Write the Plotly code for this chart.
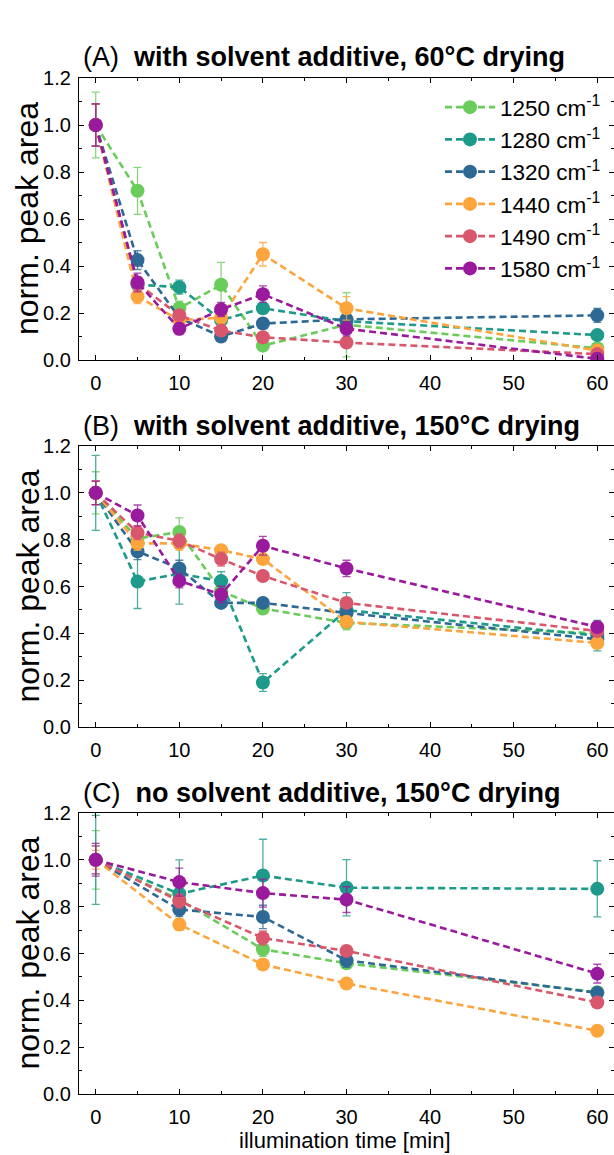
import plotly.graph_objects as go

W, H = 614, 1155
ML = 79

labels = ["1250 cm<sup>-1</sup>", "1280 cm<sup>-1</sup>", "1320 cm<sup>-1</sup>",
          "1440 cm<sup>-1</sup>", "1490 cm<sup>-1</sup>", "1580 cm<sup>-1</sup>"]
colors = ["#6ACC5B", "#1E9A8A", "#2E6894", "#FCA53D", "#D9576C", "#9A1A9E"]
err_colors = ["rgba(106,204,91,0.8)", "rgba(30,154,138,0.8)", "rgba(46,104,148,0.8)",
              "rgba(252,165,61,0.8)", "rgba(217,87,108,0.8)", "rgba(154,26,158,0.8)"]

titles = ["(A)  <b>with solvent additive, 60°C drying</b>",
          "(B)  <b>with solvent additive, 150°C drying</b>",
          "(C)  <b>no solvent additive, 150°C drying</b>"]

# Panel A
time_A = [0, 5, 10, 15, 20, 30, 60]
A_1250 = [1.0, 0.72, 0.22, 0.32, 0.061, 0.15, 0.05]
A_1280 = [1.0, 0.32, 0.31, 0.17, 0.22, 0.165, 0.106]
A_1320 = [1.0, 0.425, 0.18, 0.10, 0.155, 0.173, 0.19]
A_1440 = [1.0, 0.27, 0.17, 0.18, 0.45, 0.22, 0.04]
A_1490 = [1.0, 0.325, 0.19, 0.125, 0.097, 0.074, 0.025]
A_1580 = [1.0, 0.33, 0.133, 0.215, 0.28, 0.133, 0.005]
A_err_1250 = [0.14, 0.10, 0.03, 0.095, 0.02, 0.137, 0.02]
A_err_1280 = [0.09, 0.03, 0.03, 0.03, 0.02, 0.02, 0.015]
A_err_1320 = [0.09, 0.04, 0.02, 0.02, 0.02, 0.02, 0.03]
A_err_1440 = [0.09, 0.03, 0.02, 0.03, 0.05, 0.05, 0.02]
A_err_1490 = [0.09, 0.03, 0.02, 0.02, 0.02, 0.02, 0.01]
A_err_1580 = [0.09, 0.04, 0.025, 0.03, 0.035, 0.03, 0.01]

# Panel B
time_B = [0, 5, 10, 15, 20, 30, 60]
B_1250 = [1.0, 0.805, 0.833, 0.58, 0.506, 0.445, 0.40]
B_1280 = [1.0, 0.621, 0.655, 0.623, 0.19, 0.499, 0.39]
B_1320 = [1.0, 0.75, 0.677, 0.53, 0.53, 0.487, 0.375]
B_1440 = [1.0, 0.784, 0.784, 0.755, 0.717, 0.449, 0.359]
B_1490 = [1.0, 0.83, 0.795, 0.717, 0.645, 0.53, 0.41]
B_1580 = [1.0, 0.903, 0.624, 0.566, 0.774, 0.677, 0.427]
B_err_1250 = [0.09, 0.03, 0.06, 0.03, 0.02, 0.03, 0.02]
B_err_1280 = [0.16, 0.115, 0.13, 0.04, 0.038, 0.075, 0.065]
B_err_1320 = [0.05, 0.035, 0.035, 0.02, 0.015, 0.02, 0.02]
B_err_1440 = [0.05, 0.03, 0.03, 0.02, 0.02, 0.02, 0.02]
B_err_1490 = [0.05, 0.03, 0.03, 0.03, 0.02, 0.02, 0.02]
B_err_1580 = [0.05, 0.045, 0.03, 0.035, 0.04, 0.035, 0.02]

# Panel C
time_C = [0, 10, 20, 30, 60]
C_1250 = [1.0, 0.83, 0.618, 0.558, 0.435]
C_1280 = [1.0, 0.855, 0.933, 0.881, 0.876]
C_1320 = [1.0, 0.788, 0.756, 0.571, 0.432]
C_1440 = [1.0, 0.724, 0.553, 0.472, 0.27]
C_1490 = [1.0, 0.824, 0.666, 0.611, 0.391]
C_1580 = [1.0, 0.905, 0.858, 0.83, 0.514]
C_err_1250 = [0.125, 0.04, 0.03, 0.02, 0.02]
C_err_1280 = [0.19, 0.145, 0.155, 0.12, 0.12]
C_err_1320 = [0.06, 0.03, 0.05, 0.03, 0.02]
C_err_1440 = [0.04, 0.025, 0.02, 0.015, 0.015]
C_err_1490 = [0.06, 0.03, 0.03, 0.02, 0.02]
C_err_1580 = [0.07, 0.06, 0.06, 0.055, 0.04]

panels = [
    (time_A, [A_1250, A_1280, A_1320, A_1440, A_1490, A_1580],
     [A_err_1250, A_err_1280, A_err_1320, A_err_1440, A_err_1490, A_err_1580]),
    (time_B, [B_1250, B_1280, B_1320, B_1440, B_1490, B_1580],
     [B_err_1250, B_err_1280, B_err_1320, B_err_1440, B_err_1490, B_err_1580]),
    (time_C, [C_1250, C_1280, C_1320, C_1440, C_1490, C_1580],
     [C_err_1250, C_err_1280, C_err_1320, C_err_1440, C_err_1490, C_err_1580]),
]

# panel pixel extents (top, bottom)
pix = [(78, 360), (446, 727), (813, 1094)]
title_y = [57, 426, 793]

FONT = "Liberation Sans, Arial, sans-serif"
fig = go.Figure()

for p, (tx, series, errs) in enumerate(panels):
    xa = "x" if p == 0 else f"x{p+1}"
    ya = "y" if p == 0 else f"y{p+1}"
    for i in range(6):
        fig.add_trace(go.Scatter(
            x=tx, y=series[i], xaxis=xa, yaxis=ya,
            mode="lines+markers", name=labels[i],
            legendgroup=labels[i], showlegend=(p == 0),
            line=dict(color=colors[i], width=2.6, dash="7px,4px"),
            marker=dict(color=colors[i], size=14),
            error_y=dict(type="data", array=errs[i], visible=True,
                         color=err_colors[i], thickness=1.3, width=4),
        ))

axis_common = dict(showline=True, linecolor="black", linewidth=1.2, mirror="ticks",
                   ticks="inside", ticklen=5, tickwidth=1, tickcolor="black",
                   showgrid=False, zeroline=False, automargin=False,
                   tickfont=dict(family=FONT, size=20, color="black"))

layout = dict(width=W, height=H, margin=dict(l=ML, r=0, t=0, b=0, autoexpand=False),
              paper_bgcolor="white", plot_bgcolor="white",
              font=dict(family=FONT, color="black"))
annotations = []
for p in range(3):
    top, bot = pix[p]
    dom = [1 - bot / H, 1 - top / H]
    xkey = "xaxis" if p == 0 else f"xaxis{p+1}"
    ykey = "yaxis" if p == 0 else f"yaxis{p+1}"
    yname = "y" if p == 0 else f"y{p+1}"
    layout[xkey] = dict(axis_common, domain=[0, 1], range=[-2, 62], dtick=10, tick0=0,
                        anchor=yname, ticklabelstandoff=5,
                        minor=dict(ticks="inside", ticklen=3, dtick=5, tickcolor="black"))
    layout[ykey] = dict(axis_common, domain=dom, range=[0, 1.2], dtick=0.2, tick0=0,
                        tickformat=".1f", anchor="x" if p == 0 else f"x{p+1}",
                        ticklabelstandoff=3,
                        minor=dict(ticks="inside", ticklen=3, dtick=0.1, tickcolor="black"))
    annotations.append(dict(text=titles[p], xref="paper", yref="paper",
                            x=(81 - ML) / (W - ML), y=1 - title_y[p] / H,
                            xanchor="left", yanchor="middle", showarrow=False,
                            font=dict(family=FONT, size=27, color="black")))
    annotations.append(dict(text="norm. peak area", xref="paper", yref="paper",
                            x=(27 - ML) / (W - ML), y=1 - (top + bot) / 2 / H,
                            xanchor="center", yanchor="middle", textangle=-90,
                            showarrow=False,
                            font=dict(family=FONT, size=32, color="black")))

annotations.append(dict(text="illumination time [min]", xref="paper", yref="paper",
                        x=(345 - ML) / (W - ML), y=0, xanchor="center", yanchor="bottom",
                        showarrow=False, font=dict(family=FONT, size=22, color="black")))

layout["annotations"] = annotations
layout["showlegend"] = True
layout["legend"] = dict(x=(440 - ML) / (W - ML), y=1 - 86 / H, xanchor="left", yanchor="top",
                        bgcolor="rgba(0,0,0,0)", font=dict(family=FONT, size=22.5, color="black"),
                        itemwidth=50, tracegroupgap=3, traceorder="normal")

fig.update_layout(**layout)
fig.write_html("out.html")
